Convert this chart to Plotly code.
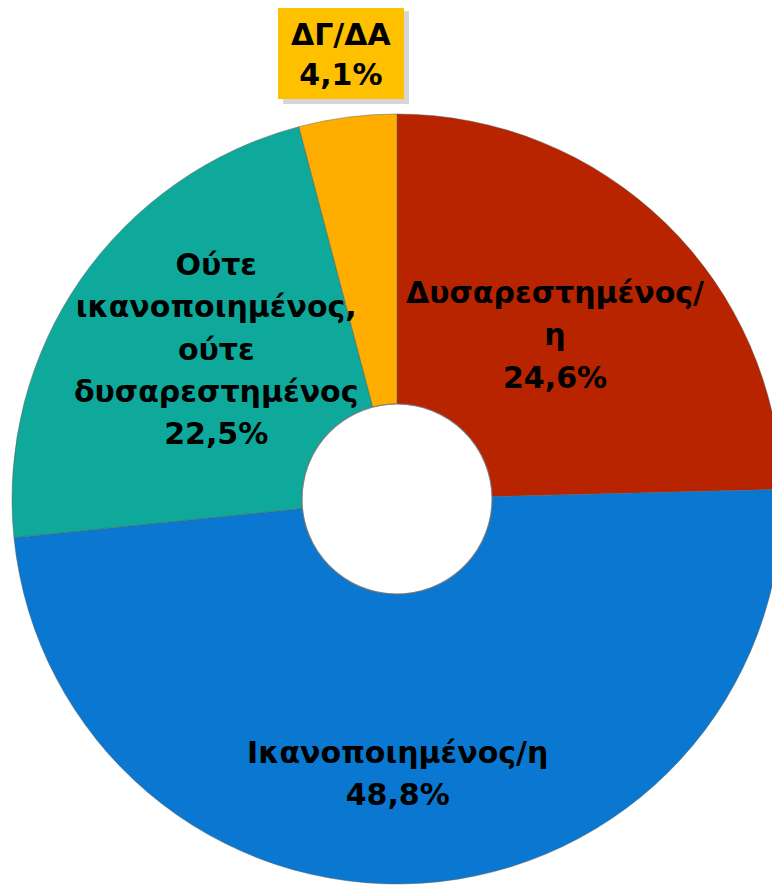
import plotly.graph_objects as go

categories = ["Δυσαρεστημένος/η", "Ικανοποιημένος/η",
              "Ούτε ικανοποιημένος, ούτε δυσαρεστημένος", "ΔΓ/ΔΑ"]
values = [24.6, 48.8, 22.5, 4.1]
label_lines = [
    ["Δυσαρεστημένος/", "η"],
    ["Ικανοποιημένος/η"],
    ["Ούτε", "ικανοποιημένος,", "ούτε", "δυσαρεστημένος"],
    ["ΔΓ/ΔΑ"],
]
value_labels = ["24,6%", "48,8%", "22,5%", "4,1%"]
colors = ["#B82300", "#0A78D0", "#0EA99B", "#FFAE00"]

W, H = 780, 885
# page is offset by the 8px body margin; coordinates below are figure pixels
cx, cy, R = 389, 491, 385
HOLE = 0.247
FONT = "DejaVu Sans"

fig = go.Figure()
fig.add_trace(go.Pie(
    labels=categories, values=values, sort=False, direction="clockwise",
    rotation=0, hole=HOLE,
    marker=dict(colors=colors, line=dict(color="rgba(90,90,90,0.6)", width=0.8)),
    textinfo="none", hoverinfo="label+percent", showlegend=False,
    domain=dict(x=[(cx - R) / W, (cx + R) / W],
                y=[(H - cy - R) / H, (H - cy + R) / H]),
))

# hole outline
hr = R * HOLE
fig.add_shape(type="circle", xref="paper", yref="paper",
              x0=(cx - hr) / W, x1=(cx + hr) / W,
              y0=1 - (cy + hr) / H, y1=1 - (cy - hr) / H,
              line=dict(color="rgba(120,120,120,0.7)", width=1.2), layer="above")

# label anchors relative to pie centre, in units of the radius
label_offsets = [(0.41, -0.426), (0.0, 0.714), (-0.47, -0.39)]
for i, (dx, dy) in enumerate(label_offsets):
    px = cx + dx * R
    py = cy + dy * R
    lines = label_lines[i] + [value_labels[i]]
    text = "<br>".join(f"<span style='font-size:30px'>{l}</span>" for l in lines)
    fig.add_annotation(x=px / W, y=1 - py / H, xref="paper", yref="paper",
                       text=f"<b>{text}</b>", showarrow=False,
                       font=dict(family=FONT, size=32.5, color="#000000"),
                       align="center", xanchor="center", yanchor="middle")

# outside label box for ΔΓ/ΔΑ with shadow
bx0, bx1, by0, by1 = 270, 396, -2, 91
fig.add_shape(type="rect", xref="paper", yref="paper",
              x0=(bx0 + 5) / W, x1=(bx1 + 5) / W, y0=1 - (by1 + 5) / H, y1=1 - (by0 + 5) / H,
              fillcolor="rgba(0,0,0,0.16)", line=dict(width=0), layer="below")
fig.add_shape(type="rect", xref="paper", yref="paper",
              x0=bx0 / W, x1=bx1 / W, y0=1 - by1 / H, y1=1 - by0 / H,
              fillcolor="#FFC000", line=dict(width=0), layer="below")
fig.add_annotation(x=(bx0 + bx1) / 2 / W, y=1 - (by0 + by1 + 4) / 2 / H,
                   xref="paper", yref="paper",
                   text="<b>" + "<br>".join(f"<span style='font-size:30px'>{l}</span>"
                                            for l in label_lines[3] + [value_labels[3]]) + "</b>",
                   showarrow=False, font=dict(family=FONT, size=31, color="#000000"),
                   align="center", xanchor="center", yanchor="middle")

fig.update_layout(width=W, height=H, margin=dict(l=0, r=0, t=0, b=0),
                  paper_bgcolor="white", plot_bgcolor="white")
fig.write_html("out.html")
